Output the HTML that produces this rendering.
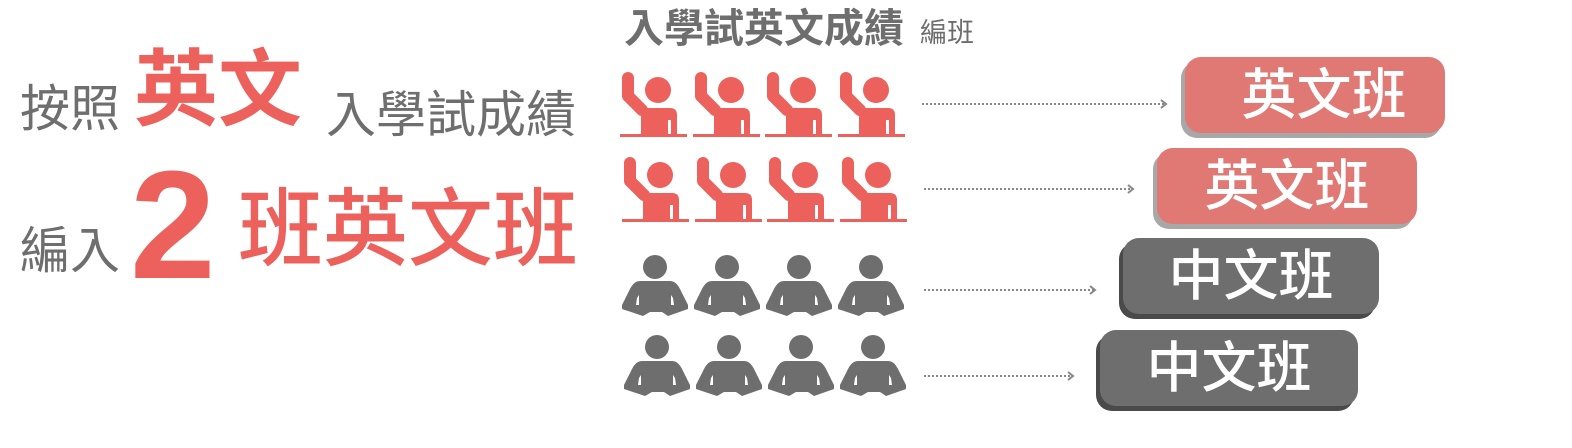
<!DOCTYPE html>
<html><head><meta charset="utf-8"><style>
html,body{margin:0;padding:0;background:#fff;}
body{width:1572px;height:448px;position:relative;overflow:hidden;font-family:"Liberation Sans","Noto Sans CJK TC",sans-serif;}
.t{position:absolute;line-height:1;white-space:nowrap;}
.g{color:#6e6e6e;}
.r{color:#ec615b;}
.box{position:absolute;border-radius:16px;color:#fff;font-size:55px;font-weight:500;line-height:1;display:flex;align-items:center;justify-content:center;}
svg{position:absolute;left:0;top:0;}
</style></head><body>
<div class="t g" style="left:20px;top:84px;font-size:50px;">按照</div>
<div class="t r" style="left:134px;top:48px;font-size:84px;font-weight:bold;">英文</div>
<div class="t g" style="left:326px;top:90px;font-size:50px;">入學試成績</div>
<div class="t g" style="left:20px;top:226px;font-size:50px;">編入</div>
<div class="t r" style="left:130px;top:148px;font-size:154px;font-weight:bold;font-family:'Liberation Sans',sans-serif;">2</div>
<div class="t r" style="left:238px;top:188px;font-size:85px;font-weight:500;">班英文班</div>
<div class="t g" style="left:624px;top:9px;font-size:40px;font-weight:bold;">入學試英文成績</div>
<div class="t g" style="left:920px;top:20px;font-size:27px;">編班</div>

<div class="box" style="left:1181px;top:62px;width:260px;height:76px;background:#a8a8a8;"></div>
<div class="box" style="left:1185px;top:57px;width:260px;height:76px;background:#e07874;padding-left:18px;box-sizing:border-box;">英文班</div>
<div class="box" style="left:1153px;top:153px;width:260px;height:76px;background:#a8a8a8;"></div>
<div class="box" style="left:1157px;top:148px;width:260px;height:76px;background:#e07874;">英文班</div>
<div class="box" style="left:1119px;top:243px;width:256px;height:76px;background:#4a4a4a;"></div>
<div class="box" style="left:1123px;top:238px;width:256px;height:76px;background:#6e6e6e;">中文班</div>
<div class="box" style="left:1096px;top:335px;width:258px;height:76px;background:#4a4a4a;"></div>
<div class="box" style="left:1100px;top:330px;width:258px;height:76px;background:#6e6e6e;">中文班</div>

<svg width="1572" height="448" viewBox="0 0 1572 448">
<defs>
<g id="ri">
<path d="M8,6 L8,24 L22,38" fill="none" stroke="#ec615b" stroke-width="12" stroke-linecap="round" stroke-linejoin="round"/>
<circle cx="38" cy="18" r="13" fill="#ec615b"/>
<path d="M21,36 L50,36 Q57,36 57,43 L57,63 L21,63 Z" fill="#ec615b"/>
<rect x="48" y="48" width="3" height="15" fill="#fff"/>
<rect x="0" y="62" width="67" height="3" fill="#ec615b"/>
</g>
<g id="gi">
<circle cx="33" cy="12" r="12" fill="#6e6e6e"/>
<path d="M18,26 L48,26 Q54,26 58,34 L66,50 L66,54 L46,61 L40,57 L28,57 L21,61 L0,54 L0,50 L8,34 Q12,26 18,26 Z" fill="#6e6e6e"/>
<path d="M15,43 L17,40 L17,50 L14,50 Z M51,43 L49,40 L49,50 L52,50 Z" fill="#fff"/>
</g>
<marker id="ah" markerWidth="8" markerHeight="10" refX="6" refY="5" orient="auto" markerUnits="userSpaceOnUse">
<path d="M1,1 L6,5 L1,9" fill="none" stroke="#888" stroke-width="2"/>
</marker>
</defs>
<use href="#ri" x="620" y="72"/><use href="#ri" x="693" y="72"/><use href="#ri" x="765" y="72"/><use href="#ri" x="838" y="72"/>
<use href="#ri" x="622" y="157"/><use href="#ri" x="695" y="157"/><use href="#ri" x="767" y="157"/><use href="#ri" x="840" y="157"/>
<use href="#gi" x="622" y="255"/><use href="#gi" x="694" y="255"/><use href="#gi" x="766" y="255"/><use href="#gi" x="838" y="255"/>
<use href="#gi" x="624" y="335"/><use href="#gi" x="696" y="335"/><use href="#gi" x="768" y="335"/><use href="#gi" x="840" y="335"/>
<g stroke="#888" stroke-width="2" stroke-dasharray="2,2" fill="none">
<line x1="922" y1="104" x2="1166" y2="104" marker-end="url(#ah)"/>
<line x1="924" y1="189" x2="1133" y2="189" marker-end="url(#ah)"/>
<line x1="924" y1="290" x2="1095" y2="290" marker-end="url(#ah)"/>
<line x1="924" y1="376" x2="1073" y2="376" marker-end="url(#ah)"/>
</g>
</svg>
</body></html>
